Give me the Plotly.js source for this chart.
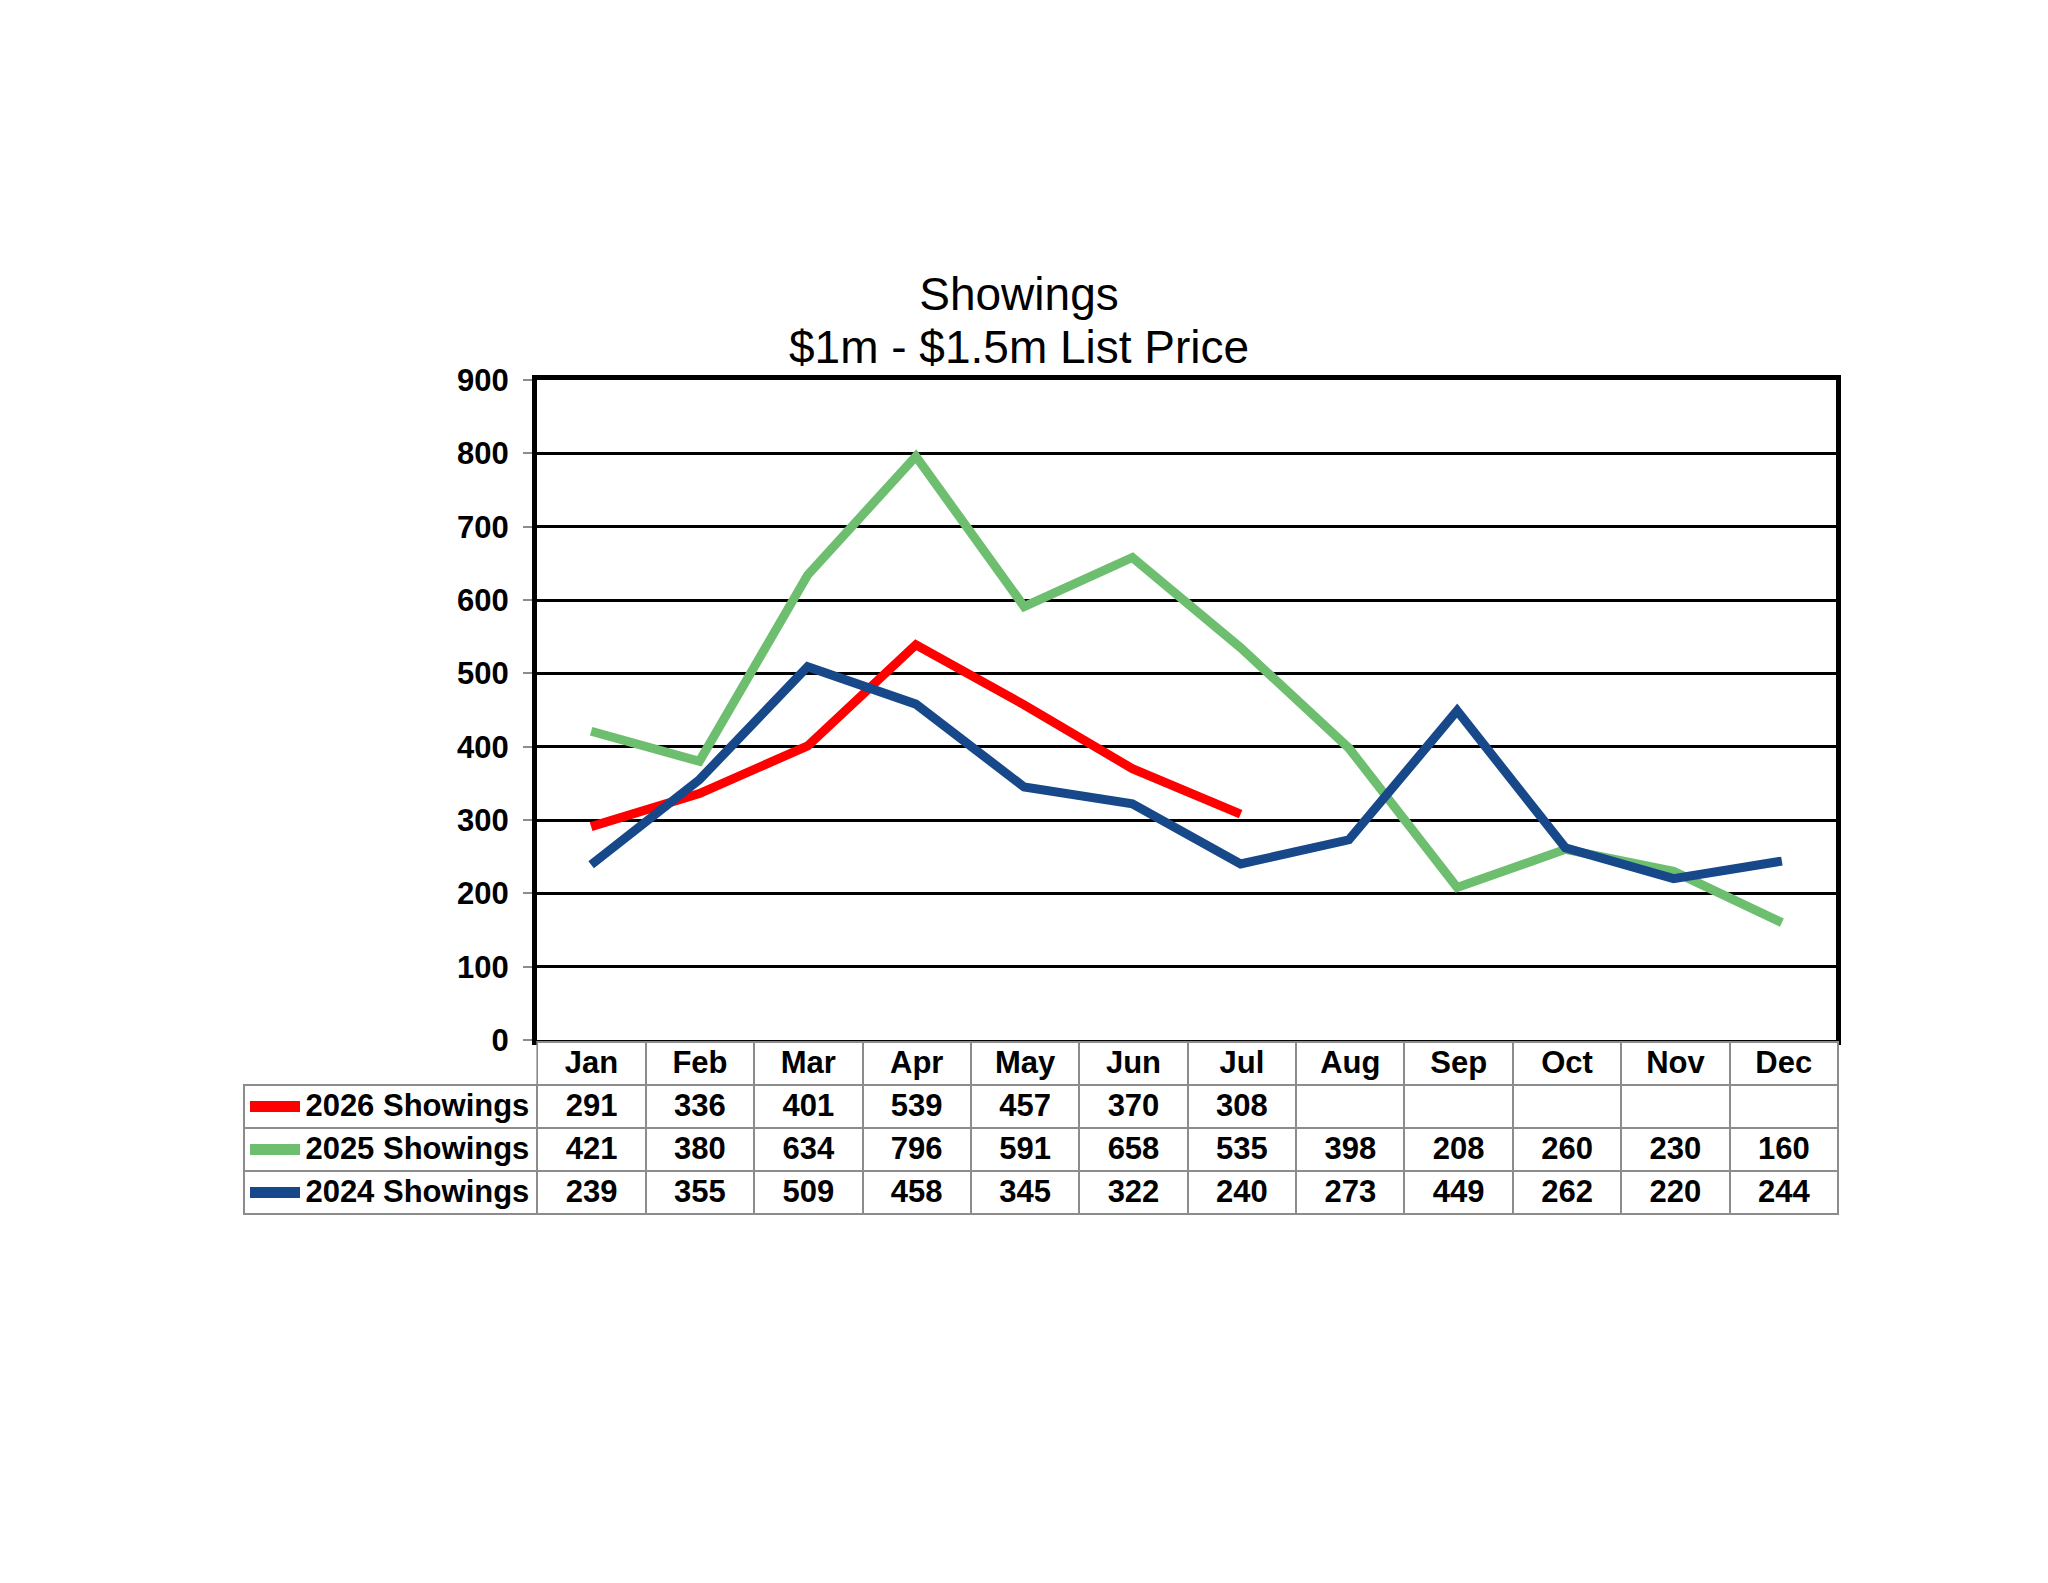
<!DOCTYPE html>
<html>
<head>
<meta charset="utf-8">
<script src="https://cdn.plot.ly/plotly-3.0.1.min.js"></script>
<style>
  html, body { margin: 0; padding: 0; background: #fff; }
  #chart { width: 2048px; height: 1583px; }
</style>
</head>
<body>
<div id="chart"></div>
<script>
// data
var months = ["Jan", "Feb", "Mar", "Apr", "May", "Jun", "Jul", "Aug", "Sep", "Oct", "Nov", "Dec"];
var seriesNames = ["2026 Showings", "2025 Showings", "2024 Showings"];
var showings2026 = [291, 336, 401, 539, 457, 370, 308, null, null, null, null, null];
var showings2025 = [421, 380, 634, 796, 591, 658, 535, 398, 208, 260, 230, 160];
var showings2024 = [239, 355, 509, 458, 345, 322, 240, 273, 449, 262, 220, 244];
var yTicks = [0, 100, 200, 300, 400, 500, 600, 700, 800, 900];

var colors = { red: "#ff0000", green: "#6dbf6f", blue: "#17488a", grid: "#8c8c8c" };
var FONT = "Liberation Sans, Arial, Helvetica, sans-serif";

// page geometry (px), margins are 0 so paper == page
var W = 2048, H = 1583;
var plotL = 537, plotR = 1836, plotT = 380, plotB = 1040;
var tableL = 244, tableT = 1042, rowH = 43;

var px = function (x) { return x / W; };
var py = function (y) { return 1 - y / H; };

var cb_showings = function () {
  let allSeries = [showings2026, showings2025, showings2024];
  let lineColors = [colors.red, colors.green, colors.blue];

  let traces = allSeries.map(function (vals, i) {
    return {
      x: months,
      y: vals,
      name: seriesNames[i],
      type: "scatter",
      mode: "lines",
      connectgaps: false,
      line: { color: lineColors[i], width: 9 },
      showlegend: false,
      hoverinfo: "x+y+name",
    };
  });

  // data table under the plot
  let colWidths = [plotL - tableL];
  let colW = (plotR - plotL) / months.length;
  months.forEach(function () { colWidths.push(colW); });

  let cellCols = [seriesNames];
  months.forEach(function (m, i) {
    cellCols.push(allSeries.map(function (s) { return s[i] == null ? "" : String(s[i]); }));
  });

  let headerLine = ["rgba(255,255,255,0)"];
  let headerFill = ["rgba(255,255,255,0)"];
  let align = ["right"];
  months.forEach(function () {
    headerLine.push(colors.grid);
    headerFill.push("white");
    align.push("center");
  });

  let table = {
    type: "table",
    // a couple of px extra so the outer border is not clipped
    domain: { x: [px(tableL), px(plotR + 2)], y: [py(tableT + 4 * rowH + 3), py(tableT)] },
    columnwidth: colWidths,
    header: {
      values: [""].concat(months),
      align: align,
      height: rowH,
      fill: { color: headerFill },
      line: { color: headerLine, width: 2 },
      font: { family: FONT, size: 31, color: "black", weight: "bold" },
    },
    cells: {
      values: cellCols,
      align: align,
      height: rowH,
      fill: { color: "white" },
      line: { color: colors.grid, width: 2 },
      font: { family: FONT, size: 31, color: "black", weight: "bold" },
    },
  };

  // legend swatches in the first table column
  let shapes = lineColors.map(function (c, i) {
    let yc = tableT + rowH * (i + 1.5);
    return {
      type: "line", xref: "paper", yref: "paper",
      x0: px(250), x1: px(300), y0: py(yc), y1: py(yc),
      line: { color: c, width: 11 },
    };
  });

  let layout = {
    width: W,
    height: H,
    margin: { l: 0, r: 0, t: 0, b: 0, pad: 0 },
    paper_bgcolor: "white",
    plot_bgcolor: "white",
    font: { family: FONT, color: "black" },
    showlegend: false,
    title: {
      text: "Showings",
      font: { family: FONT, size: 46, color: "black" },
      xref: "container", yref: "container",
      x: 1019 / W, xanchor: "center",
      y: py(294), yanchor: "middle",
    },
    annotations: [
      {
        text: "$1m - $1.5m List Price",
        xref: "paper", yref: "paper",
        x: 1019 / W, xanchor: "center",
        y: py(347), yanchor: "middle",
        showarrow: false,
        font: { family: FONT, size: 46, color: "black" },
      },
    ],
    xaxis: {
      type: "category",
      domain: [px(plotL), px(plotR)],
      range: [-0.5, months.length - 0.5],
      showticklabels: false,
      ticks: "",
      showgrid: false,
      showline: true,
      mirror: true,
      linecolor: "black",
      linewidth: 5,
      fixedrange: true,
    },
    yaxis: {
      domain: [py(plotB), py(plotT)],
      range: [0, 900],
      tickvals: yTicks,
      showgrid: true,
      gridcolor: "black",
      gridwidth: 2.5,
      zeroline: false,
      showline: true,
      mirror: true,
      linecolor: "black",
      linewidth: 5,
      ticks: "outside",
      ticklen: 9,
      tickwidth: 2,
      tickcolor: colors.grid,
      ticklabelstandoff: 8,
      tickfont: { family: FONT, size: 31, color: "black", weight: "bold" },
      fixedrange: true,
    },
    shapes: shapes,
  };

  let config = { displayModeBar: false, responsive: false };

  Plotly.newPlot("chart", traces.concat([table]), layout, config);
};

cb_showings();
</script>
</body>
</html>
